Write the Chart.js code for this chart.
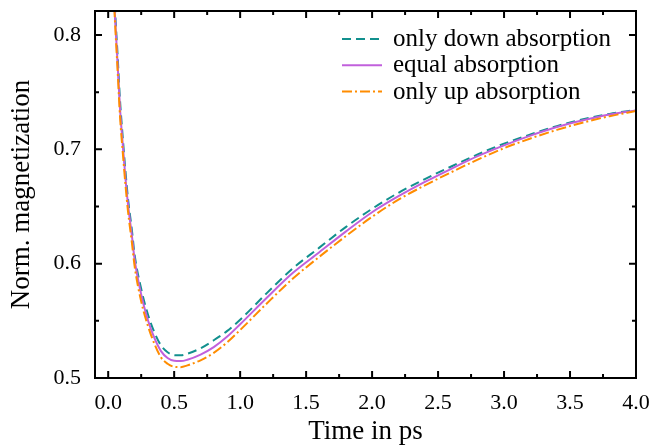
<!DOCTYPE html>
<html>
<head>
<meta charset="utf-8">
<script src="https://cdn.jsdelivr.net/npm/chart.js@4.4.0/dist/chart.umd.min.js"></script>
<style>
  html, body { margin: 0; padding: 0; background: #ffffff; }
  #wrap { width: 662px; height: 445px; position: relative; }
</style>
</head>
<body>
<div id="wrap"><canvas id="magChart"></canvas></div>
<script>
// time axis (ps) and normalised magnetization for the three absorption cases
const times = [0.04, 0.05, 0.07, 0.09, 0.11, 0.13, 0.15, 0.18, 0.2, 0.25, 0.3, 0.35, 0.4, 0.45, 0.5, 0.55, 0.6, 0.7, 0.8, 0.9,
               1.0, 1.2, 1.4, 1.6, 1.8, 2.0, 2.2, 2.4, 2.6, 2.8, 3.0, 3.2, 3.4, 3.6, 3.8, 4.0];
const onlyDown = [0.852, 0.826, 0.785, 0.742, 0.711, 0.682, 0.657, 0.629, 0.608, 0.578, 0.556, 0.540, 0.5285, 0.5225, 0.5200, 0.5198, 0.5212, 0.526, 0.533, 0.541,
                  0.551, 0.574, 0.596, 0.614, 0.632, 0.648, 0.662, 0.674, 0.685, 0.6955, 0.705, 0.713, 0.7203, 0.7263, 0.731, 0.7345];
const equalAbs = [0.845, 0.820, 0.778, 0.735, 0.705, 0.676, 0.652, 0.624, 0.604, 0.573, 0.551, 0.535, 0.5235, 0.5175, 0.5150, 0.5148, 0.5160, 0.5205, 0.527, 0.536,
                  0.547, 0.570, 0.592, 0.610, 0.628, 0.645, 0.659, 0.6715, 0.683, 0.694, 0.7035, 0.712, 0.7195, 0.7255, 0.7305, 0.734];
const onlyUp = [0.840, 0.815, 0.772, 0.728, 0.698, 0.670, 0.646, 0.618, 0.598, 0.567, 0.546, 0.530, 0.518, 0.5125, 0.5098, 0.5095, 0.511, 0.5155, 0.522, 0.531,
                0.542, 0.565, 0.587, 0.606, 0.624, 0.641, 0.656, 0.6685, 0.680, 0.691, 0.701, 0.7095, 0.717, 0.7235, 0.729, 0.7335];

const seriesNames = ['only down absorption', 'equal absorption', 'only up absorption'];
const xTicks = [0.0, 0.5, 1.0, 1.5, 2.0, 2.5, 3.0, 3.5, 4.0];
const xMinor = [0.25, 0.75, 1.25, 1.75, 2.25, 2.75, 3.25, 3.75];
const yTicks = [0.5, 0.6, 0.7, 0.8];
const yMinor = [0.55, 0.65, 0.75];

const SERIF = '"Liberation Serif", "DejaVu Serif", serif';

function toPoints(vals) {
  return times.map((t, i) => ({ x: t, y: vals[i] }));
}

// frame + inward ticks on all four sides, then the legend inside the plot
const framePlugin = {
  id: 'frame',
  afterDatasetsDraw(chart) {
    const { ctx, chartArea: a, scales } = chart;
    const xs = scales.x, ys = scales.y;
    ctx.save();
    ctx.strokeStyle = '#000';
    ctx.lineWidth = 2;
    ctx.setLineDash([]);
    ctx.beginPath();
    const tick = (x1, y1, x2, y2) => { ctx.moveTo(x1, y1); ctx.lineTo(x2, y2); };
    xTicks.forEach(v => {
      const px = xs.getPixelForValue(v);
      tick(px, a.bottom, px, a.bottom - 7);
      tick(px, a.top, px, a.top + 7);
    });
    xMinor.forEach(v => {
      const px = xs.getPixelForValue(v);
      tick(px, a.bottom, px, a.bottom - 4);
      tick(px, a.top, px, a.top + 4);
    });
    yTicks.forEach(v => {
      const py = ys.getPixelForValue(v);
      tick(a.left, py, a.left + 7, py);
      tick(a.right, py, a.right - 7, py);
    });
    yMinor.forEach(v => {
      const py = ys.getPixelForValue(v);
      tick(a.left, py, a.left + 4, py);
      tick(a.right, py, a.right - 4, py);
    });
    ctx.stroke();
    ctx.strokeRect(a.left, a.top, a.right - a.left, a.bottom - a.top);

    // legend
    const x0 = a.right - 294;
    let y0 = a.top + 28;
    chart.data.datasets.forEach(ds => {
      ctx.beginPath();
      ctx.strokeStyle = ds.borderColor;
      ctx.lineWidth = ds.borderWidth;
      ctx.setLineDash(ds.borderDash || []);
      ctx.moveTo(x0, y0);
      ctx.lineTo(x0 + 40, y0);
      ctx.stroke();
      ctx.setLineDash([]);
      ctx.fillStyle = '#000';
      ctx.font = '25px ' + SERIF;
      ctx.textAlign = 'left';
      ctx.textBaseline = 'alphabetic';
      ctx.fillText(ds.label, x0 + 51, y0 + 7);
      y0 += 26.3;
    });
    ctx.restore();
  }
};

const chart = new Chart(document.getElementById('magChart'), {
  type: 'line',
  data: {
    datasets: [
      { label: seriesNames[0], data: toPoints(onlyDown), borderColor: '#12908e', borderWidth: 2, borderDash: [9, 5], order: 3 },
      { label: seriesNames[1], data: toPoints(equalAbs), borderColor: '#c160dc', borderWidth: 2, order: 2 },
      { label: seriesNames[2], data: toPoints(onlyUp), borderColor: '#ff8c00', borderWidth: 2, borderDash: [10, 3, 2, 3], order: 1 }
    ]
  },
  options: {
    responsive: true,
    maintainAspectRatio: false,
    animation: false,
    layout: { padding: { top: 11, right: 26, left: 0, bottom: 0 } },
    elements: {
      point: { radius: 0, hoverRadius: 0 },
      line: { cubicInterpolationMode: 'monotone', fill: false }
    },
    plugins: {
      legend: { display: false },
      tooltip: { enabled: false }
    },
    scales: {
      x: {
        type: 'linear',
        min: -0.1,
        max: 4.0,
        afterBuildTicks: s => { s.ticks = xTicks.map(v => ({ value: v })); },
        afterFit: s => { s.height = 67; s.paddingLeft = 0; s.paddingRight = 0; },
        grid: { display: false, drawTicks: false },
        border: { display: false },
        ticks: {
          padding: 12,
          maxRotation: 0,
          autoSkip: false,
          color: '#000',
          font: { family: SERIF, size: 22 },
          callback: v => Number(v).toFixed(1)
        },
        title: {
          display: true,
          text: 'Time in ps',
          color: '#000',
          font: { family: SERIF, size: 27, lineHeight: 1 },
          padding: { top: 0, bottom: 0 }
        }
      },
      y: {
        type: 'linear',
        min: 0.5,
        max: 0.821,
        afterBuildTicks: s => { s.ticks = yTicks.map(v => ({ value: v })); },
        afterFit: s => { s.width = 95; s.paddingTop = 0; s.paddingBottom = 0; },
        grid: { display: false, drawTicks: false },
        border: { display: false },
        ticks: {
          padding: 14,
          color: '#000',
          font: { family: SERIF, size: 22 },
          callback: v => Number(v).toFixed(1)
        },
        title: {
          display: true,
          text: 'Norm. magnetization',
          color: '#000',
          font: { family: SERIF, size: 27, lineHeight: 1 },
          padding: { top: 8, bottom: 0 }
        }
      }
    }
  },
  plugins: [framePlugin]
});
</script>
</body>
</html>
